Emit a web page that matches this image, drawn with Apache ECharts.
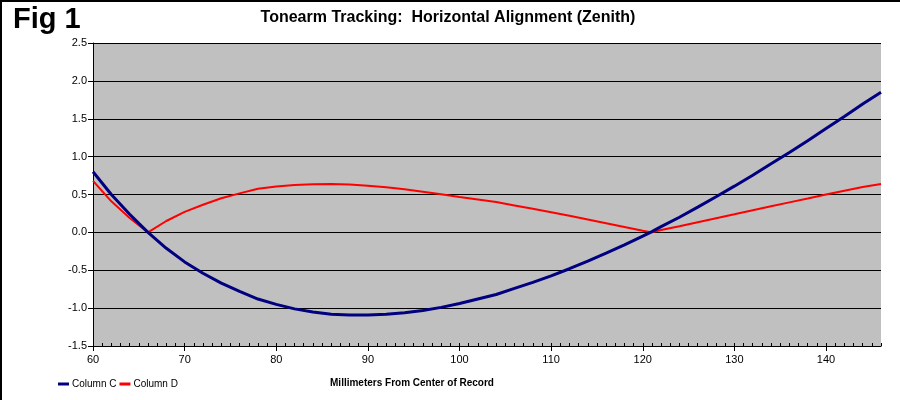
<!DOCTYPE html>
<html>
<head>
<meta charset="utf-8">
<script src="https://cdn.jsdelivr.net/npm/echarts@6/dist/echarts.min.js"></script>
<style>
html,body{margin:0;padding:0;background:#fff;}
#chart{width:900px;height:400px;}
</style>
</head>
<body>
<div id="chart"></div>
<script>
// Data
const xValues = [60,62,64,66,68,70,72,74,76,78,80,82,84,86,88,90,92,94,96,98,100,102,104,106,108,110,112,114,116,118,120,121,122,124,126,128,130,132,134,136,138,140,142,144,146];
const columnC = [0.80,0.50,0.24,0.00,-0.21,-0.39,-0.54,-0.67,-0.78,-0.88,-0.95,-1.01,-1.05,-1.08,-1.09,-1.09,-1.08,-1.06,-1.03,-0.99,-0.94,-0.88,-0.82,-0.74,-0.66,-0.575,-0.48,-0.38,-0.275,-0.165,-0.05,0.01,0.075,0.20,0.334,0.47,0.61,0.755,0.905,1.055,1.21,1.37,1.53,1.695,1.85];
const columnD = [0.68,0.41,0.19,0.00,0.15,0.27,0.365,0.45,0.515,0.575,0.605,0.625,0.635,0.638,0.632,0.615,0.595,0.568,0.537,0.503,0.468,0.435,0.40,0.356,0.312,0.267,0.219,0.17,0.121,0.071,0.021,0.0,0.031,0.082,0.135,0.187,0.239,0.292,0.344,0.396,0.447,0.499,0.55,0.60,0.64];
const seriesNames = ['Column C','Column D'];
const xTickLabels = [60,70,80,90,100,110,120,130,140];
const xMin = 60, xMax = 146;
const yMin = -1.5, yMax = 2.5, yStep = 0.5;
const chartTitle = 'Tonearm Tracking:  Horizontal Alignment (Zenith)';
const figLabel = 'Fig 1';
const xAxisTitle = 'Millimeters From Center of Record';

const pairsC = xValues.map((x, i) => [x, columnC[i]]);
const pairsD = xValues.map((x, i) => [x, columnD[i]]);

const FONT = '"Liberation Sans", Arial, sans-serif';
const chart = echarts.init(document.getElementById('chart'), null, {renderer: 'canvas'});
chart.setOption({
  backgroundColor: '#ffffff',
  animation: false,
  textStyle: {fontFamily: FONT},
  grid: {left: 93, top: 43, right: 19, bottom: 54, show: true, backgroundColor: '#c0c0c0', borderWidth: 0},
  legend: {
    left: 53, top: 374, itemWidth: 11, itemHeight: 3, itemGap: 3, icon: 'rect',
    textStyle: {fontFamily: FONT, fontSize: 10, color: '#000', padding: [0,0,0,-2]},
    data: seriesNames
  },
  xAxis: [{
    type: 'value', min: xMin, max: xMax, interval: 10,
    axisLine: {show: true, onZero: false, lineStyle: {color: '#000', width: 1}},
    axisTick: {show: true, inside: false, length: 5, lineStyle: {color: '#000'}, customValues: xTickLabels},
    axisLabel: {color: '#000', fontSize: 11, fontFamily: FONT, margin: 8, customValues: xTickLabels},
    splitLine: {show: false}
  }, {
    type: 'value', min: xMin, max: xMax, interval: 1, position: 'bottom',
    axisLine: {show: false, onZero: false},
    axisTick: {show: true, inside: true, length: 3, lineStyle: {color: '#000'}},
    axisLabel: {show: false},
    splitLine: {show: false}
  }],
  yAxis: {
    type: 'value', min: yMin, max: yMax, interval: yStep,
    axisLine: {show: true, onZero: false, lineStyle: {color: '#000', width: 1}},
    axisTick: {show: true, inside: false, length: 5, lineStyle: {color: '#000'}},
    axisLabel: {color: '#000', fontSize: 11, fontFamily: FONT, margin: 6, formatter: v => v.toFixed(1)},
    splitLine: {show: true, lineStyle: {color: '#000', width: 1}}
  },
  series: [{
    name: seriesNames[0], type: 'line', data: pairsC, showSymbol: false, smooth: false,
    lineStyle: {color: '#000080', width: 3}, itemStyle: {color: '#000080'}, z: 3
  }, {
    name: seriesNames[1], type: 'line', data: pairsD, showSymbol: false, smooth: false,
    lineStyle: {color: '#ff0000', width: 2}, itemStyle: {color: '#ff0000'}, z: 2
  }],
  graphic: [
    {type: 'line', shape: {x1: 0, y1: 1, x2: 900, y2: 1}, style: {stroke: '#000', lineWidth: 2}},
    {type: 'line', shape: {x1: 1, y1: 0, x2: 1, y2: 400}, style: {stroke: '#000', lineWidth: 2}},
    {type: 'text', left: 13, top: 5, style: {text: figLabel, font: 'bold 29px ' + FONT, fill: '#000'}},
    {type: 'text', x: 448, y: 18, style: {text: chartTitle, font: 'bold 16px ' + FONT, fill: '#000', textAlign: 'center', textVerticalAlign: 'middle'}},
    {type: 'text', x: 412, y: 383, style: {text: xAxisTitle, font: 'bold 10px ' + FONT, fill: '#000', textAlign: 'center', textVerticalAlign: 'middle'}}
  ]
});
</script>
</body>
</html>
